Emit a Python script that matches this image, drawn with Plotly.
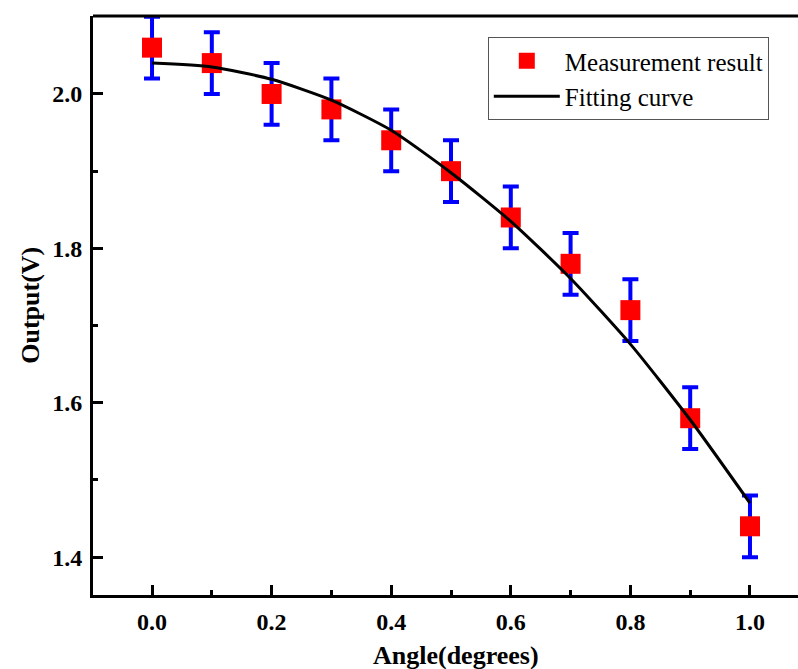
import plotly.graph_objects as go

# Measured output voltage versus tilt angle
angle = [0.0, 0.1, 0.2, 0.3, 0.4, 0.5, 0.6, 0.7, 0.8, 0.9, 1.0]
output = [2.06, 2.04, 2.00, 1.98, 1.94, 1.90, 1.84, 1.78, 1.72, 1.58, 1.44]
error = [0.04, 0.04, 0.04, 0.04, 0.04, 0.04, 0.04, 0.04, 0.04, 0.04, 0.04]

# Fitted curve sampled along the angle range
fit_angle = [0.0, 0.1, 0.2, 0.3, 0.4, 0.5, 0.6, 0.7, 0.8, 0.9, 1.0]
fit_output = [2.040, 2.035, 2.019, 1.992, 1.953, 1.898, 1.835, 1.761, 1.676, 1.578, 1.470]

serif = "Liberation Serif, Times New Roman, serif"

fig = go.Figure()

fig.add_trace(go.Scatter(
    x=angle, y=output, mode="markers", name="Measurement result",
    marker=dict(symbol="square", size=20, color="#ff0000"),
    error_y=dict(type="data", array=error, color="#0000ff", thickness=4, width=8),
    cliponaxis=False, legendrank=1,
))

fig.add_trace(go.Scatter(
    x=fit_angle, y=fit_output, mode="lines", name="Fitting curve",
    line=dict(color="black", width=3, shape="spline", smoothing=0.6),
    legendrank=2,
))

axis_common = dict(
    showline=True, linecolor="black", linewidth=3,
    ticks="inside", ticklen=10, tickwidth=3, tickcolor="black",
    showgrid=False, zeroline=False,
    tickfont=dict(family=serif, size=24, color="black", weight="bold"),
)

fig.update_xaxes(
    range=[-0.0987, 1.0803], tick0=0, dtick=0.2, tickformat=".1f",
    minor=dict(ticks="inside", ticklen=5, tickwidth=3, tickcolor="black", dtick=0.1, tick0=0),
    ticklabelstandoff=3,
    **axis_common,
)
fig.update_yaxes(
    range=[1.351, 2.101], tick0=1.4, dtick=0.2, tickformat=".1f",
    minor=dict(ticks="inside", ticklen=5, tickwidth=3, tickcolor="black", dtick=0.1, tick0=1.4),
    ticklabelstandoff=3,
    **axis_common,
)

# top frame line
fig.add_shape(type="line", xref="paper", yref="paper", x0=0, x1=1, y0=1, y1=1,
              line=dict(color="black", width=3))

fig.add_annotation(text="Angle(degrees)", xref="x", yref="paper", x=0.508, y=-0.105,
                   showarrow=False, xanchor="center", yanchor="middle",
                   font=dict(family=serif, size=26, color="black", weight="bold"))
fig.add_annotation(text="Output(V)", xref="paper", yref="paper", x=-0.089, y=0.5,
                   showarrow=False, textangle=-90, xanchor="center", yanchor="middle",
                   font=dict(family=serif, size=26, color="black", weight="bold"))

fig.update_layout(
    width=798, height=669,
    margin=dict(l=93, r=0, t=16, b=74),
    paper_bgcolor="white", plot_bgcolor="white",
    showlegend=True,
    legend=dict(
        x=0.560, y=0.9637, xanchor="left", yanchor="top",
        bgcolor="white", bordercolor="#555555", borderwidth=1,
        font=dict(family=serif, size=25, color="black"),
        tracegroupgap=0, itemwidth=66,
    ),
)

fig.write_html("out.html")
